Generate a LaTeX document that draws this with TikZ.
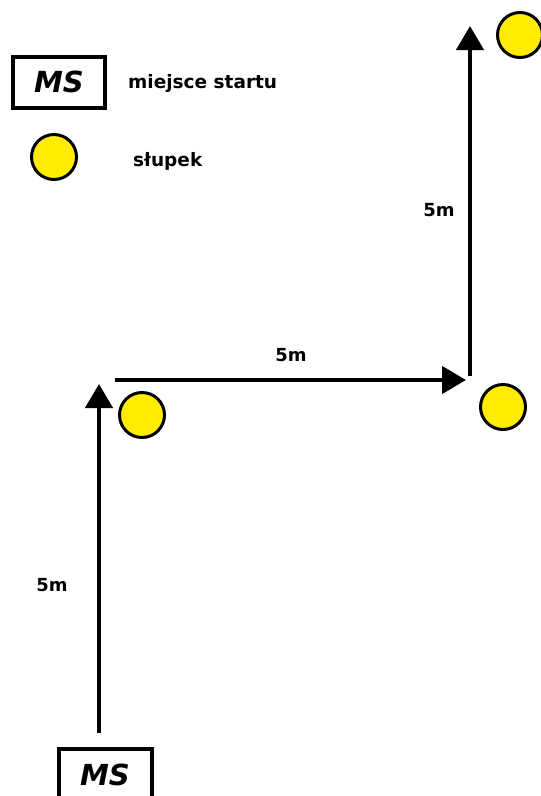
\documentclass[tikz,border=0pt]{standalone}
\usepackage{fontspec}
\setmainfont{DejaVu Sans}
\usetikzlibrary{arrows.meta}
\definecolor{postyellow}{RGB}{255,236,0}
\begin{document}
\begin{tikzpicture}[x=1pt,y=-1pt,
  post/.style={circle,draw=black,line width=3pt,fill=postyellow,minimum size=45pt,inner sep=0pt},
  msbox/.style={draw=black,line width=4pt,minimum width=92pt,minimum height=52pt,inner sep=0pt},
  mstext/.style={font=\fontsize{29}{31}\selectfont\bfseries\itshape,inner sep=0pt},
  lbl/.style={font=\fontsize{18.5}{20}\selectfont\bfseries,inner sep=0pt},
  dist/.style={font=\fontsize{18}{20}\selectfont\bfseries,inner sep=0pt},
  route/.style={line width=4.5pt,-{Triangle[length=24pt,width=27pt]}}]
\useasboundingbox (0,0) rectangle (541,796);
% legend
\node[msbox,minimum height=51pt,mstext] (legms) at (59,82) {MS};
\node[lbl,anchor=west] (legmstxt) at (128,83) {miejsce startu};
\node[post] (legpost) at (54,157) {};
\node[lbl,anchor=west] (legposttxt) at (133,161) {słupek};
% posts
\node[post] (p1) at (142,415) {};
\node[post] (p2) at (503,407) {};
\node[post] (p3) at (520,35) {};
% start box
\node[msbox,minimum width=93pt,minimum height=60pt,anchor=north] (ms) at (105,747) {};
\node[mstext] (mstxt) at (105,775) {MS};
% route coordinates
\coordinate (a0) at (99,733);
\coordinate (a1) at (99,384);
\coordinate (b0) at (115,380);
\coordinate (b1) at (466,380);
\coordinate (c0) at (470,376);
\coordinate (c1) at (470,26);
\draw[route] (a0) -- (a1);
\draw[route] (b0) -- (b1);
\draw[route] (c0) -- (c1);
% distance labels
\node[dist] (d1) at (52,585) {5m};
\node[dist] (d2) at (291,355) {5m};
\node[dist] (d3) at (439,210) {5m};
\end{tikzpicture}
\end{document}
